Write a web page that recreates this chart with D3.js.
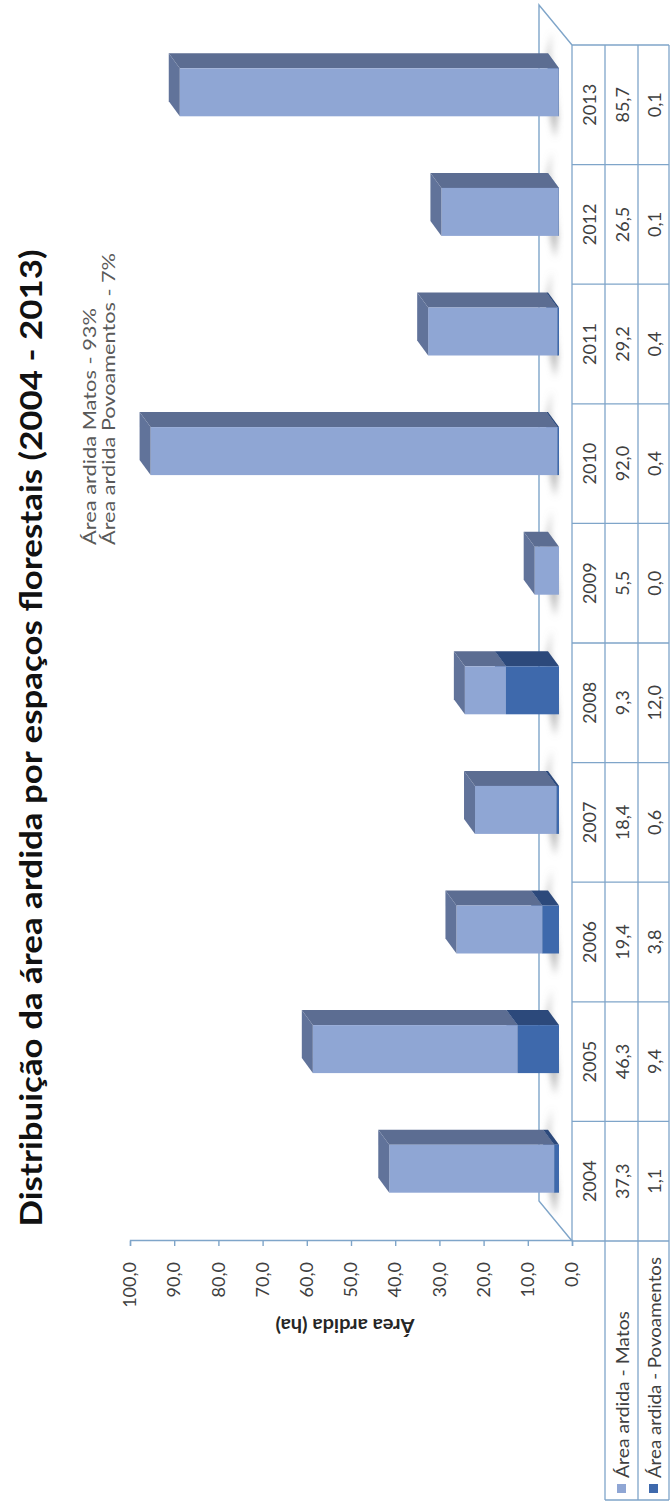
<!DOCTYPE html>
<html>
<head>
<meta charset="utf-8">
<script src="https://cdn.jsdelivr.net/npm/d3@7"></script>
<style>
  html, body { margin: 0; padding: 0; background: #fff; }
  svg { display: block; }
  text { font-family: Lato, "Open Sans", sans-serif; }
</style>
</head>
<body>
<script>
// Burnt area (ha) by forest land type, 2004-2013
const years = ["2004", "2005", "2006", "2007", "2008", "2009", "2010", "2011", "2012", "2013"];
const matos = [37.3, 46.3, 19.4, 18.4, 9.3, 5.5, 92.0, 29.2, 26.5, 85.7];
const povoamentos = [1.1, 9.4, 3.8, 0.6, 12.0, 0.0, 0.4, 0.4, 0.1, 0.1];
const seriesNames = ["Área ardida - Matos", "Área ardida - Povoamentos"];
const valueTicks = [0, 10, 20, 30, 40, 50, 60, 70, 80, 90, 100];
const titleText = "Distribuição da área ardida por espaços florestais (2004 - 2013)";
const noteLines = ["Área ardida Matos - 93%", "Área ardida Povoamentos - 7%"];
const axisTitle = "Área ardida  (ha)";

const W = 671, H = 1508;
const colors = {
  matos: { front: "#8FA6D4", side: "#5C6D92", top: "#61739A" },
  pov:   { front: "#3E69AC", side: "#2C497B", top: "#33568F" }
};
const lineColor = "#7FA5C9";
const fmt = v => d3.format(".1f")(v).replace(".", ",");

const svg = d3.select("body").append("svg").attr("width", W).attr("height", H);
const defs = svg.append("defs");
defs.append("filter").attr("id", "soft").attr("x", "-50%").attr("y", "-50%")
  .attr("width", "200%").attr("height", "200%")
  .append("feGaussianBlur").attr("stdDeviation", 3);

// The chart is laid out landscape (1508 x 671) and turned a quarter turn counter-clockwise.
const g = svg.append("g").attr("transform", `translate(0,${H}) rotate(-90)`);

const x = d3.scaleBand().domain(years).range([267, 1463]);
const y = d3.scaleLinear().domain([0, 100]).range([572, 130]);

const floorDepth = [40, -33];   // floor front edge -> back edge
const barShift = [12.5, -13];   // bar front face sits this far into the floor
const depth = [15, -11];        // bar front face -> back face
const barW = 48;

// Title
g.append("text")
  .attr("x", 770).attr("y", 42)
  .attr("text-anchor", "middle")
  .attr("font-size", 31).attr("font-weight", 700).attr("fill", "#111")
  .attr("textLength", 977).attr("lengthAdjust", "spacingAndGlyphs")
  .text(titleText);

// Share notes
const noteLens = [237, 292];
noteLines.forEach((t, i) => {
  g.append("text")
    .attr("x", 963).attr("y", 96 + i * 19)
    .attr("font-size", 17).attr("fill", "#595959")
    .attr("textLength", noteLens[i]).attr("lengthAdjust", "spacingAndGlyphs")
    .text(t);
});

// Floor outline
const x0 = x.range()[0], x1 = x.range()[1], yFloor = y(0);
g.append("path")
  .attr("d", `M${x0},${yFloor} L${x0 + floorDepth[0]},${yFloor + floorDepth[1]} ` +
             `L${x1 + floorDepth[0]},${yFloor + floorDepth[1]} L${x1},${yFloor}`)
  .attr("fill", "none").attr("stroke", lineColor).attr("stroke-width", 1.4);

// Value axis
const axisG = g.append("g").attr("transform", `translate(${x0},0)`);
axisG.call(d3.axisLeft(y).tickValues(valueTicks).tickSize(5).tickPadding(16).tickFormat(fmt));
axisG.select(".domain").attr("stroke", lineColor).attr("stroke-width", 1.4);
axisG.selectAll(".tick line").attr("stroke", lineColor).attr("stroke-width", 1.4);
axisG.selectAll(".tick text")
  .attr("font-size", 18).attr("fill", "#404040")
  .style("font-family", "Lato, 'Open Sans', sans-serif");

g.append("text")
  .attr("transform", `translate(182,345) rotate(-90)`)
  .attr("text-anchor", "middle").attr("dominant-baseline", "central")
  .attr("font-size", 18).attr("font-weight", 700).attr("fill", "#262626")
  .attr("textLength", 139).attr("lengthAdjust", "spacingAndGlyphs")
  .text(axisTitle);

// Soft shadows on the floor at each bar base
const shadowG = g.append("g").attr("filter", "url(#soft)");
years.forEach((yr, i) => {
  const L = x(yr) + x.bandwidth() / 2 + barShift[0] - barW / 2;
  const R = L + barW;
  const vb = y(0) + barShift[1];
  shadowG.append("path")
    .attr("d", `M${L - 22},${vb - 4} L${L},${vb - 1} L${R + depth[0]},${vb - 9} ` +
               `L${R + depth[0] + 22},${vb - 7} L${R + depth[0]},${vb - 12} L${L},${vb - 9} Z`)
    .attr("fill", "#8a8a8a").attr("opacity", 0.6);
});

// 3D stacked bars: Povoamentos at the base, Matos on top
const barsG = g.append("g");
years.forEach((yr, i) => {
  const L = x(yr) + x.bandwidth() / 2 + barShift[0] - barW / 2;
  const R = L + barW;
  const segs = [
    { lo: 0, hi: povoamentos[i], c: colors.pov },
    { lo: povoamentos[i], hi: povoamentos[i] + matos[i], c: colors.matos }
  ];
  segs.forEach(s => {
    if (s.hi - s.lo <= 0) return;
    const vb = y(s.lo) + barShift[1];
    const vt = y(s.hi) + barShift[1];
    const bg = barsG.append("g");
    bg.append("path")
      .attr("d", `M${R},${vt} L${R},${vb} L${R + depth[0]},${vb + depth[1]} L${R + depth[0]},${vt + depth[1]} Z`)
      .attr("fill", s.c.side);
    bg.append("rect")
      .attr("x", L).attr("y", vt).attr("width", barW).attr("height", vb - vt)
      .attr("fill", s.c.front);
    bg.append("path")
      .attr("d", `M${L},${vt} L${R},${vt} L${R + depth[0]},${vt + depth[1]} L${L + depth[0]},${vt + depth[1]} Z`)
      .attr("fill", s.c.top);
  });
});

// Data table under the plot
const rowV = [572, 605, 638, 669];
const tableG = g.append("g").attr("stroke", lineColor).attr("stroke-width", 1.3).attr("fill", "none");
rowV.forEach(v => {
  tableG.append("line").attr("x1", x0).attr("x2", x1).attr("y1", v).attr("y2", v);
});
[x0, ...years.map(yr => x(yr) + x.bandwidth())].forEach(u => {
  tableG.append("line").attr("x1", u).attr("x2", u).attr("y1", rowV[0]).attr("y2", rowV[3]);
});
// legend key column
const legL = 8;
rowV.slice(1).forEach(v => {
  tableG.append("line").attr("x1", legL).attr("x2", x0).attr("y1", v).attr("y2", v);
});
tableG.append("line").attr("x1", legL).attr("x2", legL).attr("y1", rowV[1]).attr("y2", rowV[3]);

const rows = [years, matos.map(fmt), povoamentos.map(fmt)];
rows.forEach((row, r) => {
  const vc = (rowV[r] + rowV[r + 1]) / 2;
  g.append("g").selectAll("text").data(row).join("text")
    .attr("x", (d, i) => x(years[i]) + x.bandwidth() / 2)
    .attr("y", vc)
    .attr("text-anchor", "middle").attr("dominant-baseline", "central")
    .attr("font-size", 18).attr("fill", "#404040")
    .text(d => d);
});

const legendLens = [167, 221];
seriesNames.forEach((name, k) => {
  const vc = (rowV[k + 1] + rowV[k + 2]) / 2;
  g.append("rect").attr("x", 15).attr("y", vc - 4.5).attr("width", 9).attr("height", 9)
    .attr("fill", k === 0 ? colors.matos.front : colors.pov.front);
  g.append("text").attr("x", 30).attr("y", vc)
    .attr("dominant-baseline", "central")
    .attr("font-size", 18).attr("fill", "#404040")
    .attr("textLength", legendLens[k]).attr("lengthAdjust", "spacingAndGlyphs")
    .text(name);
});
</script>
</body>
</html>
